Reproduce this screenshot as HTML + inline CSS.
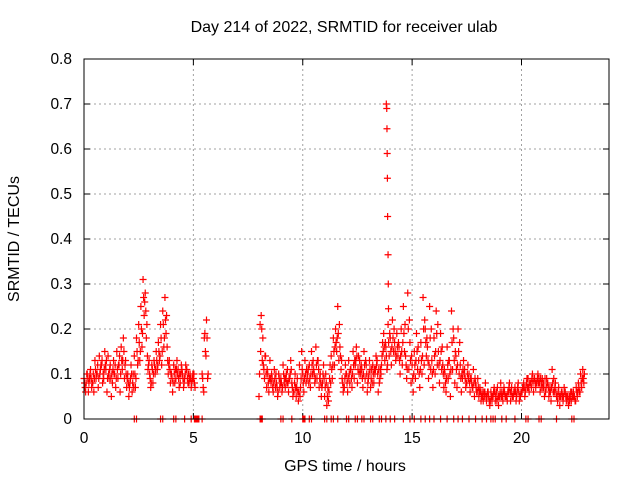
<!DOCTYPE html>
<html><head><meta charset="utf-8"><style>
body{margin:0;background:#fff;}
svg{display:block;font-family:"Liberation Sans",sans-serif;}
</style></head><body>
<svg id="chart" width="640" height="480" viewBox="0 0 640 480">
<rect width="640" height="480" fill="#fff"/>
<g id="grid"></g>
<g id="ticks"></g>
<g id="marks"></g>
<rect x="84" y="59" width="525" height="360" fill="none" stroke="#000" stroke-width="1"/>
<text x="344" y="32" text-anchor="middle" font-size="16">Day 214 of 2022, SRMTID for receiver ulab</text>
<text x="345" y="471" text-anchor="middle" font-size="16">GPS time / hours</text>
<text x="19" y="239" text-anchor="middle" font-size="16" transform="rotate(-90 19 239)">SRMTID / TECUs</text>
</svg>
<script>
const xTicks=[0,5,10,15,20];
const yTicks=[0,0.1,0.2,0.3,0.4,0.5,0.6,0.7,0.8];
const yTickLabels=["0","0.1","0.2","0.3","0.4","0.5","0.6","0.7","0.8"];
const seg1T=[0.0,0.1,0.2,0.3,0.4,0.5,0.6,0.7,0.8,0.9,1.0,1.1,1.2,1.3,1.4,1.5,1.6,1.7,1.8,1.9,2.0,2.1,2.2,2.3,2.4,2.5,2.6,2.7,2.8,2.9,3.0,3.1,3.2,3.3,3.4,3.5,3.6,3.7,3.8,3.9,4.0,4.1,4.2,4.3,4.4,4.5,4.6,4.7,4.8,4.9,5.0,5.4,5.5,5.6];
const seg1A=[.09,.08,.06,.11,.08,.13,.10,.14,.12,.09,.11,.14,.12,.08,.10,.15,.12,.16,.18,.13,.10,.08,.06,.14,.18,.21,.25,.31,.28,.14,.10,.12,.13,.15,.17,.21,.24,.27,.16,.13,.10,.12,.09,.11,.08,.10,.09,.11,.08,.07,.09,.10,.18,.22];
const seg1B=[.07,.10,.09,.07,.06,.09,.07,.11,.08,.15,.06,.09,.05,.13,.07,.09,.06,.11,.09,.07,.05,.12,.10,.07,.12,.13,.16,.23,.18,.12,.07,.08,.10,.11,.13,.12,.16,.19,.10,.08,.06,.08,.13,.07,.12,.07,.12,.08,.10,.09,.08,.07,.15,.09];
const seg1C=[.08,.10,.08,.09,.10,.11,.12,.10,.13,.11,.13,.10,.09,.11,.12,.11,.14,.13,.15,.10,.08,.09,.08,.10,.15,.17,.20,.27,.24,.11,.09,.11,.12,.13,.15,.18,.21,.22,.13,.11,.09,.10,.11,.09,.10,.09,.10,.09,.09,.08,.10,.09,.19,.18];
const seg1D=[.06,.09,.10,.08,.09,.10,.09,.12,.10,.12,.09,.11,.10,.10,.09,.12,.10,.13,.12,.09,.07,.10,.07,.09,.13,.15,.19,.26,.21,.13,.08,.10,.11,.12,.14,.15,.18,.23,.12,.10,.08,.11,.10,.10,.11,.08,.11,.10,.09,.10,.07,.06,.14,.10];
const seg2T=[8.0,8.1,8.2,8.3,8.4,8.5,8.6,8.7,8.8,8.9,9.0,9.1,9.2,9.3,9.4,9.5,9.6,9.7,9.8,9.9,10.0,10.1,10.2,10.3,10.4,10.5,10.6,10.7,10.8,10.9,11.0,11.1,11.2,11.3,11.4,11.5,11.6,11.7,11.8,11.9,12.0,12.1,12.2,12.3,12.4,12.5,12.6,12.7,12.8,12.9,13.0,13.1,13.2,13.3,13.4,13.5,13.6,13.7,13.8,13.9,14.0,14.1,14.2,14.3,14.4,14.5,14.6,14.7,14.8,14.9,15.0,15.1,15.2,15.3,15.4,15.5,15.6,15.7,15.8,15.9,16.0,16.1,16.2,16.3,16.4,16.5,16.6,16.7,16.8,16.9,17.0,17.1,17.2,17.3,17.4,17.5,17.6,17.7,17.8,17.9,18.0,18.1,18.2,18.3,18.4,18.5,18.6,18.7,18.8,18.9,19.0,19.1,19.2,19.3,19.4,19.5,19.6,19.7,19.8,19.9,20.0,20.1,20.2,20.3,20.4,20.5,20.6,20.7,20.8,20.9,21.0,21.1,21.2,21.3,21.4,21.5,21.6,21.7,21.8,21.9,22.0,22.1,22.2,22.3,22.4,22.5,22.6,22.7,22.8];
const seg2A=[.05,.23,.12,.14,.10,.13,.09,.11,.08,.10,.09,.12,.07,.11,.09,.08,.06,.05,.04,.07,.10,.13,.09,.12,.15,.11,.16,.13,.10,.08,.05,.03,.06,.14,.18,.20,.25,.16,.09,.07,.10,.13,.11,.15,.12,.08,.13,.11,.15,.12,.09,.07,.12,.10,.13,.08,.12,.19,.16,.21,.18,.22,.17,.19,.16,.20,.25,.14,.28,.17,.12,.15,.19,.13,.17,.27,.20,.16,.25,.13,.18,.24,.15,.19,.12,.10,.16,.13,.24,.18,.14,.20,.12,.09,.11,.08,.10,.09,.11,.08,.09,.07,.06,.05,.04,.05,.06,.05,.04,.07,.05,.06,.07,.05,.06,.04,.05,.07,.06,.04,.06,.08,.07,.09,.08,.10,.09,.08,.09,.07,.08,.06,.08,.07,.11,.06,.05,.07,.05,.04,.06,.05,.04,.06,.05,.07,.08,.10,.11];
const seg2B=[.21,.13,.09,.07,.06,.08,.06,.07,.05,.07,.06,.08,.10,.06,.13,.05,.10,.09,.12,.15,.06,.08,.11,.07,.10,.08,.09,.07,.05,.12,.10,.07,.12,.09,.12,.15,.13,.11,.06,.12,.06,.08,.07,.09,.16,.14,.10,.07,.09,.06,.13,.11,.08,.14,.06,.11,.17,.13,.11,.14,.12,.15,.13,.14,.10,.12,.15,.09,.11,.08,.06,.09,.11,.07,.10,.12,.14,.09,.11,.07,.10,.12,.08,.11,.07,.06,.09,.05,.11,.08,.07,.10,.06,.13,.07,.12,.06,.07,.05,.06,.05,.04,.04,.08,.06,.03,.04,.07,.06,.03,.08,.04,.05,.04,.08,.07,.06,.04,.08,.05,.07,.05,.09,.06,.07,.06,.07,.10,.06,.09,.05,.09,.05,.04,.06,.08,.04,.03,.06,.07,.04,.03,.06,.05,.04,.05,.06,.07,.08];
const seg2C=[.10,.20,.11,.10,.08,.09,.07,.09,.07,.09,.08,.10,.09,.08,.10,.07,.08,.07,.06,.09,.08,.10,.10,.09,.12,.10,.12,.11,.08,.10,.07,.05,.09,.11,.15,.17,.19,.14,.08,.09,.08,.10,.09,.12,.13,.11,.11,.09,.12,.10,.10,.09,.10,.11,.10,.09,.14,.16,.14,.17,.15,.18,.15,.16,.13,.15,.19,.12,.20,.13,.09,.12,.15,.10,.13,.20,.17,.13,.18,.10,.14,.19,.12,.15,.10,.08,.12,.10,.17,.13,.11,.15,.09,.11,.09,.10,.08,.08,.08,.07,.07,.06,.05,.06,.05,.04,.05,.06,.05,.05,.06,.05,.06,.05,.07,.06,.05,.06,.07,.05,.06,.07,.08,.07,.08,.08,.08,.09,.08,.08,.07,.07,.07,.06,.08,.07,.05,.05,.06,.05,.05,.04,.05,.05,.05,.06,.07,.08,.09];
const seg2D=[.15,.18,.14,.11,.09,.10,.08,.10,.06,.08,.07,.09,.08,.09,.11,.06,.07,.06,.05,.11,.09,.11,.08,.10,.13,.09,.13,.09,.07,.09,.08,.04,.08,.12,.16,.18,.21,.13,.07,.10,.09,.11,.10,.13,.14,.10,.12,.10,.13,.08,.11,.08,.11,.12,.11,.10,.15,.17,.12,.19,.16,.20,.14,.17,.14,.17,.21,.11,.22,.14,.10,.13,.16,.11,.14,.22,.18,.12,.20,.11,.15,.21,.13,.16,.11,.09,.13,.11,.20,.15,.12,.17,.10,.10,.08,.09,.09,.07,.09,.06,.06,.05,.06,.05,.06,.04,.05,.06,.04,.05,.05,.06,.05,.06,.06,.05,.06,.05,.06,.06,.07,.06,.07,.08,.09,.09,.08,.08,.09,.07,.09,.08,.06,.07,.09,.06,.06,.05,.05,.06,.05,.05,.04,.06,.04,.06,.06,.09,.10];
const spikeT=[13.82,13.84,13.85,13.86,13.87,13.88,13.9,13.91,13.92];
const spikeV=[.70,.69,.645,.59,.535,.45,.365,.30,.245];
const zeroT=[2.3,2.4,3.5,3.6,4.1,4.2,4.6,4.9,5.05,5.1,5.15,5.2,5.25,5.4,8.05,8.1,8.15,9.0,9.1,9.5,10.0,10.05,10.1,10.3,10.4,11.0,11.1,11.3,11.4,11.6,12.0,12.1,12.4,12.5,12.7,12.8,13.1,13.2,13.5,13.6,13.8,14.0,14.2,14.6,14.9,15.1,15.4,15.6,15.8,16.0,16.3,16.6,16.9,17.1,17.3,17.6,17.9,18.2,18.4,18.6,18.7,18.8,19.1,19.3,19.7,20.2,20.3,20.8,20.9,21.6,22.3,22.4];

const X0=84,X1=609,Y0=419,Y1=59,XMAX=24,YMAX=0.8;
function xs(v){return X0+(X1-X0)*v/XMAX;}
function ys(v){return Y0-(Y0-Y1)*v/YMAX;}
const NS="http://www.w3.org/2000/svg";
function mk(tag,attrs,parent){const e=document.createElementNS(NS,tag);for(const k in attrs)e.setAttribute(k,attrs[k]);parent.appendChild(e);return e;}
const grid=document.getElementById('grid'),ticks=document.getElementById('ticks'),marks=document.getElementById('marks');
xTicks.forEach((t,i)=>{
  const x=xs(t);
  if(t>0){const g=mk('line',{x1:x,x2:x,y1:Y1,y2:Y0,stroke:'#a0a0a0','stroke-dasharray':'2,3'},grid);
  
  }
  mk('line',{x1:x,x2:x,y1:Y0,y2:Y0-6,stroke:'#000'},ticks);
  mk('line',{x1:x,x2:x,y1:Y1,y2:Y1+6,stroke:'#000'},ticks);
  const l=mk('text',{x:x,y:Y0+24,'text-anchor':'middle','font-size':'15.5'},ticks);
  l.textContent=String(t);
  
  
});
yTicks.forEach((t,i)=>{
  const y=ys(t);
  if(t>0&&t<YMAX){const g=mk('line',{x1:X0,x2:X1,y1:y,y2:y,stroke:'#a0a0a0','stroke-dasharray':'2,3'},grid);
  
  }
  mk('line',{x1:X0,x2:X0+6,y1:y,y2:y,stroke:'#000'},ticks);
  mk('line',{x1:X1,x2:X1-6,y1:y,y2:y,stroke:'#000'},ticks);
  const l=mk('text',{x:X0-12,y:y+5,'text-anchor':'end','font-size':'15.5'},ticks);
  l.textContent=yTickLabels[i];
  
  
});
let d='';
function cross(t,v){const x=xs(t),y=ys(v);d+='M'+(x-3.5)+' '+y+'h7M'+x+' '+(y-3.5)+'v7';}
seg1T.forEach((t,i)=>{cross(t,seg1A[i]);cross(t+0.025,seg1C[i]);cross(t+0.05,seg1B[i]);cross(t+0.075,seg1D[i]);});
seg2T.forEach((t,i)=>{cross(t,seg2A[i]);cross(t+0.025,seg2C[i]);cross(t+0.05,seg2B[i]);cross(t+0.075,seg2D[i]);});
spikeT.forEach((t,i)=>cross(t,spikeV[i]));
zeroT.forEach(t=>cross(t,0));
const p=mk('path',{d:d,stroke:'#ff0000','stroke-width':'1.2',fill:'none'},marks);


</script>
</body></html>
